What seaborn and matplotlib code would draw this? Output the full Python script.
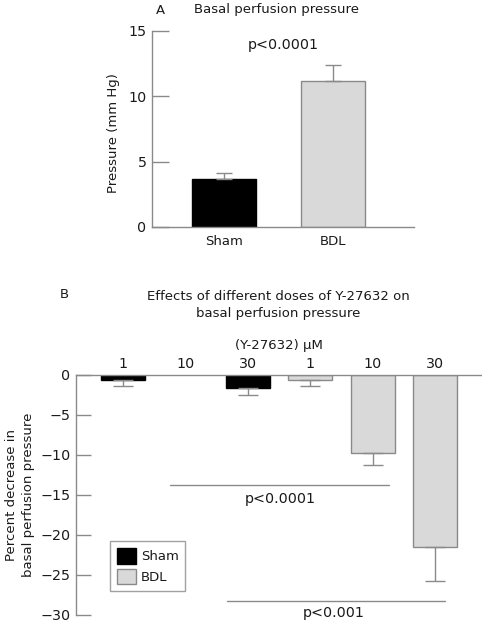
import numpy as np
import pandas as pd
import matplotlib
matplotlib.use("Agg")
import matplotlib.pyplot as plt
import seaborn as sns
from matplotlib.patches import Patch

sns.set_theme(style="white")
plt.rcParams['font.family'] = ['DejaVu Sans']

# ---- Data ----
a_groups = ["Sham", "BDL"]
a_values = [3.7, 11.15]
a_errors = [0.4, 1.27]

b_cats = ["Sham 1", "Sham 10", "Sham 30", "BDL 1", "BDL 10", "BDL 30"]
b_ticklabels = ["1", "10", "30", "1", "10", "30"]
b_groups = ["Sham", "Sham", "Sham", "BDL", "BDL", "BDL"]
b_values = [-0.6, np.nan, -1.65, -0.67, -9.8, -21.5]
b_errors = [0.8, np.nan, 0.9, 0.75, 1.45, 4.2]

colors = {"Sham": "#000000", "BDL": "#d9d9d9"}
edges = {"Sham": "#000000", "BDL": "#8a8a8a"}
axis_gray = "#8a8a8a"
txt = "#1a1a1a"
fs = 9.5
fsn = 10.3

fig = plt.figure(figsize=(4.82, 6.24), dpi=100)

# ---- Panel A ----
axA = fig.add_axes([152/482, 1-227/624, (414-152)/482, (227-31)/624])
dfA = pd.DataFrame({"group": a_groups, "value": a_values})
sns.barplot(data=dfA, x="group", y="value", hue="group", palette=colors,
            order=a_groups, width=0.587, errorbar=None, legend=False, ax=axA)
for p, g in zip(axA.patches, a_groups):
    p.set_edgecolor(edges[g]); p.set_linewidth(1.0)
axA.errorbar(range(2), a_values, yerr=[np.zeros(2), a_errors], fmt="none",
             ecolor=axis_gray, elinewidth=1.0, capsize=6, capthick=1.0, zorder=3)
axA.set_xlim(-0.66, 1.743)
axA.set_ylim(0, 15)
axA.set_yticks([0, 5, 10, 15])
axA.set_xlabel("")
axA.set_ylabel("Pressure (mm Hg)", fontsize=fs, color=txt)
axA.yaxis.set_label_coords((120-152)/262, 0.48)
for s in ["top", "right"]:
    axA.spines[s].set_visible(False)
for s in ["left", "bottom"]:
    axA.spines[s].set_color(axis_gray); axA.spines[s].set_linewidth(1.0)
axA.tick_params(axis="y", direction="in", length=12, color=axis_gray, width=1.0,
                labelsize=fsn, labelcolor=txt, pad=4, left=True)
axA.tick_params(axis="x", length=0, labelsize=fs, labelcolor=txt, pad=6)
axA.text(0.54, 13.9, "p<0.0001", ha="center", va="center", fontsize=fsn, color=txt)
fig.text(160/482, 1-10/624, "A", ha="center", va="center", fontsize=fs, color=txt)
fig.text(277/482, 1-10/624, "Basal perfusion pressure", ha="center", va="center",
         fontsize=fs, color=txt)

# ---- Panel B ----
axB = fig.add_axes([76/482, 1-615/624, (482-76)/482, (615-375)/624])
dfB = pd.DataFrame({"cat": b_cats, "group": b_groups, "value": b_values})
sns.barplot(data=dfB, x="cat", y="value", hue="group", palette=colors,
            order=b_cats, hue_order=["Sham", "BDL"], dodge=False, width=0.71,
            errorbar=None, legend=False, ax=axB)
for p in axB.patches:
    fc = p.get_facecolor()
    if fc[0] < 0.5:
        p.set_edgecolor(edges["Sham"])
    else:
        p.set_edgecolor(edges["BDL"])
    p.set_linewidth(1.0)
vals = np.array(b_values, dtype=float)
errs = np.array(b_errors, dtype=float)
axB.errorbar(np.arange(6), vals, yerr=[errs, np.zeros(6)], fmt="none",
             ecolor=axis_gray, elinewidth=1.0, capsize=7, capthick=1.0, zorder=3)
axB.set_xlim(-0.75, 5.75)
axB.set_ylim(-30, 0)
axB.set_yticks([0, -5, -10, -15, -20, -25, -30])
axB.xaxis.tick_top()
axB.xaxis.set_label_position("top")
axB.set_xticks(range(6))
axB.set_xticklabels(b_ticklabels)
axB.set_xlabel("(Y-27632) \u03bcM", fontsize=fs, color=txt, labelpad=6)
axB.set_ylabel("Percent decrease in\nbasal perfusion pressure", fontsize=fs,
               color=txt, linespacing=1.4)
axB.yaxis.set_label_coords((35-76)/406, 0.5)
for s in ["bottom", "right"]:
    axB.spines[s].set_visible(False)
for s in ["left", "top"]:
    axB.spines[s].set_color(axis_gray); axB.spines[s].set_linewidth(1.0)
axB.tick_params(axis="y", direction="in", length=11, color=axis_gray, width=1.0,
                labelsize=fsn, labelcolor=txt, pad=4, left=True)
axB.tick_params(axis="x", length=0, labelsize=fsn, labelcolor=txt, pad=3)

axB.plot([0.76, 4.26], [-13.75, -13.75], color=axis_gray, lw=1.0)
axB.text(2.52, -15.5, "p<0.0001", ha="center", va="center", fontsize=fsn, color=txt)
axB.plot([1.66, 5.16], [-28.2, -28.2], color=axis_gray, lw=1.0, clip_on=False)
axB.text(3.37, -29.7, "p<0.001", ha="center", va="center", fontsize=fsn, color=txt)

handles = [Patch(facecolor=colors["Sham"], edgecolor=edges["Sham"], label="Sham"),
           Patch(facecolor=colors["BDL"], edgecolor=edges["BDL"], label="BDL")]
leg = axB.legend(handles=handles, loc="lower left", bbox_to_anchor=(0.084, 0.1),
                 borderaxespad=0, frameon=True, fancybox=False, fontsize=fs,
                 handlelength=1.45, handleheight=1.45, handletextpad=0.38,
                 labelspacing=0.38, borderpad=0.5)
leg.get_frame().set_edgecolor(axis_gray)
leg.get_frame().set_linewidth(1.0)
for t in leg.get_texts():
    t.set_color(txt)

fig.text(64/482, 1-295/624, "B", ha="center", va="center", fontsize=fs, color=txt)
fig.text(278/482, 1-305/624, "Effects of different doses of Y-27632 on\nbasal perfusion pressure",
         ha="center", va="center", fontsize=fs, color=txt, linespacing=1.3)

fig.savefig("out.png", dpi=100)
